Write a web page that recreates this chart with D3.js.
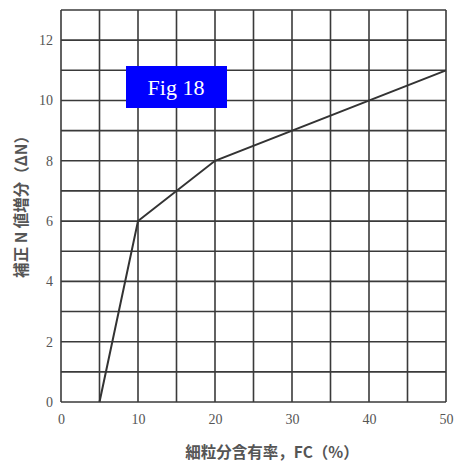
<!DOCTYPE html>
<html>
<head>
<meta charset="utf-8">
<script src="https://cdn.jsdelivr.net/npm/d3@7"></script>
<style>
  body { margin: 0; background: #fff; }
  svg { display: block; }
  .serif { font-family: "Liberation Serif", "DejaVu Serif", serif; }
</style>
</head>
<body>
<div id="chart"></div>
<script>
// FC (%) vs corrected N increment
var fcValues = [5, 10, 20, 50];
var dnValues = [0, 6, 8, 11];
var xTicks = [0, 10, 20, 30, 40, 50];
var yTicks = [0, 2, 4, 6, 8, 10, 12];
var xLabel = "細粒分含有率，FC（%）";
var yLabel = "補正 N 値増分（ΔN）";
var figTitle = "Fig 18";

var width = 465, height = 472;
var margin = {top: 10, right: 19, bottom: 70, left: 61};

var svg = d3.select("#chart").append("svg")
  .attr("width", width)
  .attr("height", height);

var x = d3.scaleLinear().domain([0, 50]).range([margin.left, width - margin.right]);
var y = d3.scaleLinear().domain([0, 13]).range([height - margin.bottom, margin.top]);

var grid = svg.append("g").attr("stroke", "#3a3a3a").attr("stroke-width", 1.6);

grid.selectAll("line.v")
  .data(d3.range(0, 51, 5))
  .enter().append("line")
  .attr("class", "v")
  .attr("x1", function(d) { return x(d); })
  .attr("x2", function(d) { return x(d); })
  .attr("y1", y(0))
  .attr("y2", y(13));

grid.selectAll("line.h")
  .data(d3.range(0, 14, 1))
  .enter().append("line")
  .attr("class", "h")
  .attr("x1", x(0))
  .attr("x2", x(50))
  .attr("y1", function(d) { return y(d); })
  .attr("y2", function(d) { return y(d); });

// tick labels
svg.append("g")
  .attr("transform", "translate(0," + y(0) + ")")
  .call(d3.axisBottom(x).tickValues(xTicks).tickSize(0).tickPadding(12))
  .attr("font-family", null)
  .attr("font-size", null)
  .call(function(g) { g.select(".domain").remove(); })
  .selectAll("text")
  .attr("class", "serif")
  .attr("fill", "#555")
  .style("font-size", "14px");

svg.append("g")
  .attr("transform", "translate(" + x(0) + ",0)")
  .call(d3.axisLeft(y).tickValues(yTicks).tickSize(0).tickPadding(8))
  .attr("font-family", null)
  .attr("font-size", null)
  .call(function(g) { g.select(".domain").remove(); })
  .selectAll("text")
  .attr("class", "serif")
  .attr("fill", "#555")
  .style("font-size", "14px");

// curve
var pts = fcValues.map(function(d, i) { return [d, dnValues[i]]; });
var line = d3.line()
  .x(function(d) { return x(d[0]); })
  .y(function(d) { return y(d[1]); });

svg.append("path")
  .datum(pts)
  .attr("d", line)
  .attr("fill", "none")
  .attr("stroke", "#333")
  .attr("stroke-width", 2);

// axis titles
svg.append("text")
  .attr("x", 272)
  .attr("y", 458)
  .attr("text-anchor", "middle")
  .attr("fill", "#555")
  .style("font-family", "'Noto Sans CJK JP', sans-serif")
  .style("font-size", "15.5px")
  .style("font-weight", "bold")
  .text(xLabel);

svg.append("text")
  .attr("transform", "translate(27,203) rotate(-90)")
  .attr("text-anchor", "middle")
  .attr("fill", "#555")
  .style("font-family", "'Noto Sans CJK JP', sans-serif")
  .style("font-size", "15.5px")
  .style("font-weight", "bold")
  .text(yLabel);

// figure tag
var tag = svg.append("g");
tag.append("rect")
  .attr("x", 126)
  .attr("y", 66)
  .attr("width", 101)
  .attr("height", 42)
  .attr("fill", "#0000ff");
tag.append("text")
  .attr("class", "serif")
  .attr("x", 176)
  .attr("y", 95)
  .attr("text-anchor", "middle")
  .attr("fill", "#fff")
  .style("font-size", "22px")
  .text(figTitle);
</script>
</body>
</html>
